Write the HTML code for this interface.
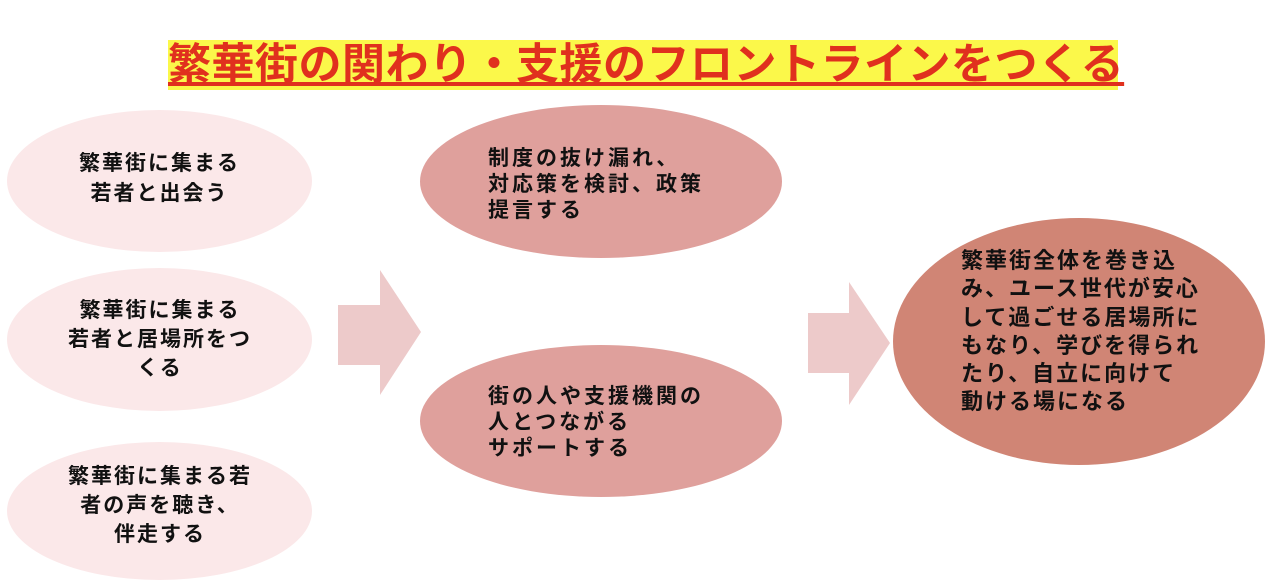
<!DOCTYPE html>
<html><head><meta charset="utf-8"><style>
body{margin:0;width:1276px;height:588px;background:#fff;position:relative;overflow:hidden;font-family:"Liberation Sans","Noto Sans CJK JP",sans-serif;font-weight:bold;color:#111}
.e{position:absolute;border-radius:50%}
.t{position:absolute;font-size:21px;line-height:28px;white-space:nowrap}
.title{position:absolute;left:168px;top:40px;width:950px;height:50px;background:#fbf84a;color:#e0301e;font-size:43px;line-height:50px;text-align:center;text-decoration:underline;text-decoration-thickness:4px;text-underline-offset:3px;white-space:nowrap;letter-spacing:0.5px}
</style></head><body>
<div class="title">繁華街の関わり・支援のフロントラインをつくる</div>

<div class="e" style="left:7px;top:110px;width:305px;height:142px;background:#fbe8e9"></div>
<div class="e" style="left:7px;top:268px;width:305px;height:143px;background:#fbe8e9"></div>
<div class="e" style="left:7px;top:442px;width:305px;height:138px;background:#fbe8e9"></div>
<div class="t" style="left:7px;width:305px;top:149px;text-align:center;letter-spacing:2px;line-height:30px">繁華街に集まる<br>若者と出会う</div>
<div class="t" style="left:20px;width:280px;top:296px;text-align:center;letter-spacing:2px;line-height:29px">繁華街に集まる<br>若者と居場所をつ<br>くる</div>
<div class="t" style="left:20px;width:280px;top:462px;text-align:center;letter-spacing:2px;line-height:29px">繁華街に集まる若<br>者の声を聴き、<br>伴走する</div>

<div class="e" style="left:420px;top:105px;width:362px;height:153px;background:#dfa09c"></div>
<div class="e" style="left:420px;top:345px;width:362px;height:152px;background:#dfa09c"></div>
<div class="t" style="left:488px;top:146px;line-height:26px;letter-spacing:3px">制度の抜け漏れ、<br>対応策を検討、政策<br>提言する</div>
<div class="t" style="left:488px;top:384px;line-height:26px;letter-spacing:3px">街の人や支援機関の<br>人とつながる<br>サポートする</div>

<div class="e" style="left:893px;top:218px;width:372px;height:247px;background:#d08575"></div>
<div class="t" style="left:961px;top:247px;font-size:22px;letter-spacing:2px;line-height:28.3px">繁華街全体を巻き込<br>み、ユース世代が安心<br>して過ごせる居場所に<br>もなり、学びを得られ<br>たり、自立に向けて<br>動ける場になる</div>

<svg style="position:absolute;left:0;top:0" width="1276" height="588">
<polygon points="338,305 380,305 380,270 421,332 380,395 380,365 338,365" fill="#edcaca"/>
<polygon points="808,313 849,313 849,282 890,343 849,405 849,373 808,373" fill="#edcaca"/>
</svg>
</body></html>
